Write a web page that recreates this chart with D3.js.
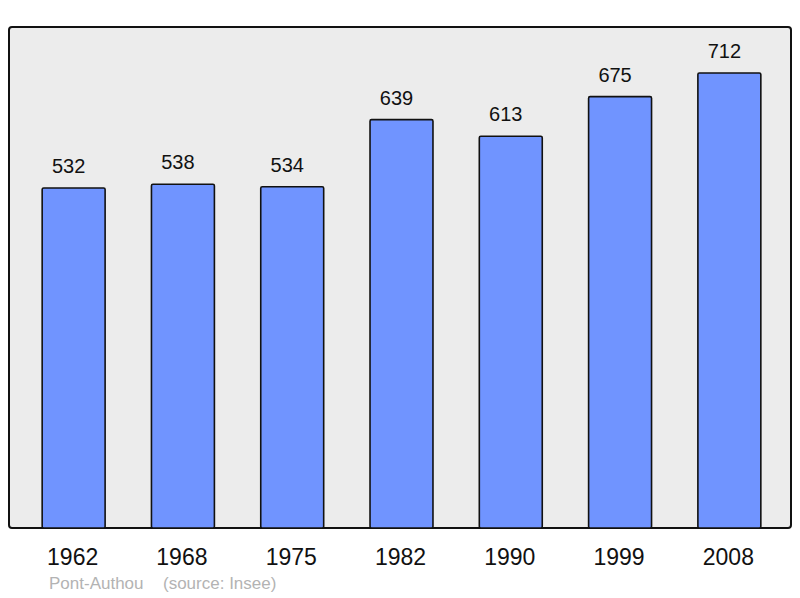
<!DOCTYPE html>
<html><head><meta charset="utf-8">
<script src="https://cdn.jsdelivr.net/npm/d3@7"></script>
<style>body{margin:0;background:#fff}svg{display:block}</style>
</head><body>
<script>
const years = ["1962","1968","1975","1982","1990","1999","2008"];
const populations = [532,538,534,639,613,675,712];
const footerPlace = "Pont-Authou";
const footerSource = "(source: Insee)";

const W = 800, H = 598;
const svg = d3.select("body").append("svg").attr("width", W).attr("height", H);
const font = "'Liberation Sans', Arial, sans-serif";

const panel = {x0: 9, y0: 27, x1: 791, y1: 528};
svg.append("rect").attr("x", panel.x0).attr("y", panel.y0)
  .attr("width", panel.x1 - panel.x0).attr("height", panel.y1 - panel.y0)
  .attr("rx", 3).attr("fill", "#ececec").attr("stroke", "#111").attr("stroke-width", 2);

const x = d3.scaleBand().domain(years).range([19, 784]).paddingInner(0.424).paddingOuter(0.212);
const y = d3.scaleLinear().domain([0, 784]).range([panel.y1, panel.y0]);

svg.selectAll("rect.bar").data(populations).join("rect").attr("class","bar")
  .attr("x", (d,i) => x(years[i])).attr("y", d => y(d))
  .attr("width", x.bandwidth()).attr("height", d => panel.y1 - y(d))
  .attr("rx", 1.5)
  .attr("fill", "#7094ff").attr("stroke", "#111").attr("stroke-width", 1.6);

svg.selectAll("text.val").data(populations).join("text").attr("class","val")
  .attr("x", (d,i) => x(years[i]) + x.bandwidth()/2 - 5)
  .attr("y", d => y(d) - 15)
  .attr("text-anchor","middle").attr("font-family", font).attr("font-size", 20)
  .attr("fill","#111").text(d => d);

svg.selectAll("text.year").data(years).join("text").attr("class","year")
  .attr("x", d => x(d) + x.bandwidth()/2 - 1)
  .attr("y", 565)
  .attr("text-anchor","middle").attr("font-family", font).attr("font-size", 23)
  .attr("fill","#111").text(d => d);

svg.append("text").attr("x", 49).attr("y", 589).attr("font-family", font).attr("font-size", 17)
  .attr("fill", "#b3b3b3").text(footerPlace);
svg.append("text").attr("x", 163).attr("y", 589).attr("font-family", font).attr("font-size", 17)
  .attr("fill", "#b3b3b3").text(footerSource);
</script>
</body></html>
